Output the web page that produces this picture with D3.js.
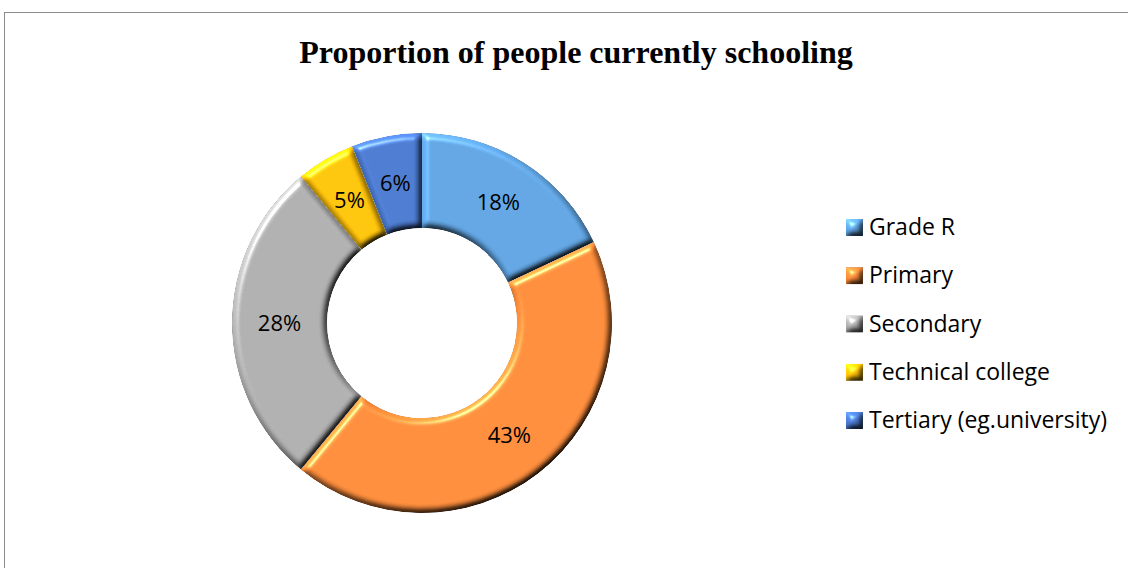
<!DOCTYPE html>
<html>
<head>
<meta charset="utf-8">
<script src="https://cdn.jsdelivr.net/npm/d3@7"></script>
<style>
  body { margin: 0; background: #fff; }
  svg { display: block; }
</style>
</head>
<body>
<svg id="chart" width="1128" height="568"></svg>
<script>
// chart data
const categories = ["Grade R", "Primary", "Secondary", "Technical college", "Tertiary (eg.university)"];
const values = [18, 43, 28, 5, 6];
const colors = ["#5fa2df", "#f98a3a", "#acacac", "#ffc20a", "#4a78cc"];
const titleText = "Proportion of people currently schooling";

const width = 1128, height = 568;
const cx = 422, cy = 323;
const outerR = 190, innerR = 95;

const svg = d3.select("#chart");

// bevel filter, a rough take on the office "soft round" look
const elev = 50;
const defs = svg.append("defs");
const f = defs.append("filter")
  .attr("id", "bevel")
  .attr("color-interpolation-filters", "sRGB")
  .attr("x", "-10%").attr("y", "-10%")
  .attr("width", "120%").attr("height", "120%");
f.append("feGaussianBlur").attr("in", "SourceAlpha").attr("stdDeviation", 3).attr("result", "blur");
f.append("feDiffuseLighting")
  .attr("in", "blur").attr("surfaceScale", 4).attr("diffuseConstant", 1)
  .attr("lighting-color", "#fff").attr("result", "diff")
  .append("feDistantLight").attr("azimuth", 235).attr("elevation", elev);
f.append("feSpecularLighting")
  .attr("in", "blur").attr("surfaceScale", 4).attr("specularConstant", 0.6)
  .attr("specularExponent", 45).attr("lighting-color", "#fff").attr("result", "spec")
  .append("feDistantLight").attr("azimuth", 235).attr("elevation", elev);
f.append("feComposite").attr("in", "spec").attr("in2", "SourceAlpha").attr("operator", "in").attr("result", "specIn");
// shade: src * diffuse, scaled so the flat part keeps its colour
f.append("feComposite")
  .attr("in", "SourceGraphic").attr("in2", "diff")
  .attr("operator", "arithmetic")
  .attr("k1", 1 / Math.sin(elev * Math.PI / 180)).attr("k2", 0).attr("k3", 0).attr("k4", 0)
  .attr("result", "shaded");
f.append("feComposite").attr("in", "shaded").attr("in2", "SourceAlpha").attr("operator", "in").attr("result", "shadedIn");
f.append("feComposite")
  .attr("in", "shadedIn").attr("in2", "specIn")
  .attr("operator", "arithmetic")
  .attr("k1", 0).attr("k2", 1).attr("k3", 0.7).attr("k4", 0);

// frame
svg.append("rect")
  .attr("x", 4.5).attr("y", 12.5)
  .attr("width", width).attr("height", height)
  .attr("fill", "none")
  .attr("stroke", "#8c8c8c")
  .attr("stroke-width", 1);

// title
svg.append("text")
  .attr("x", 576).attr("y", 63)
  .attr("text-anchor", "middle")
  .attr("font-family", "'Liberation Serif', 'Times New Roman', serif")
  .attr("font-weight", "bold")
  .attr("font-size", 32)
  .attr("fill", "#000")
  .text(titleText);

// donut
const pie = d3.pie().sort(null).value(d => d);
const arcs = pie(values);
const arc = d3.arc().innerRadius(innerR).outerRadius(outerR);
const labelArc = d3.arc().innerRadius((innerR + outerR) / 2).outerRadius((innerR + outerR) / 2);

const g = svg.append("g").attr("transform", `translate(${cx},${cy})`);

g.selectAll("path.slice")
  .data(arcs)
  .enter()
  .append("path")
  .attr("class", "slice")
  .attr("d", arc)
  .attr("fill", (d, i) => colors[i])
  .attr("filter", "url(#bevel)");

g.selectAll("text.lbl")
  .data(arcs)
  .enter()
  .append("text")
  .attr("class", "lbl")
  .attr("transform", d => `translate(${labelArc.centroid(d)})`)
  .attr("text-anchor", "middle")
  .attr("dy", "0.35em")
  .attr("font-family", "'Open Sans', sans-serif")
  .attr("font-size", 22)
  .attr("fill", "#000")
  .text(d => d.data + "%");

// legend
const legendY = d3.scalePoint().domain(categories).range([227, 420]);
const legend = svg.append("g");
const item = legend.selectAll("g")
  .data(categories)
  .enter()
  .append("g")
  .attr("transform", d => `translate(846,${legendY(d)})`);

item.append("rect")
  .attr("x", 0).attr("y", -8)
  .attr("width", 17).attr("height", 17)
  .attr("fill", (d, i) => colors[i])
  .attr("filter", "url(#bevel)");

item.append("text")
  .attr("x", 23).attr("y", 0)
  .attr("dy", "0.35em")
  .attr("font-family", "'Open Sans', sans-serif")
  .attr("font-size", 23)
  .attr("fill", "#000")
  .text(d => d);
</script>
</body>
</html>
